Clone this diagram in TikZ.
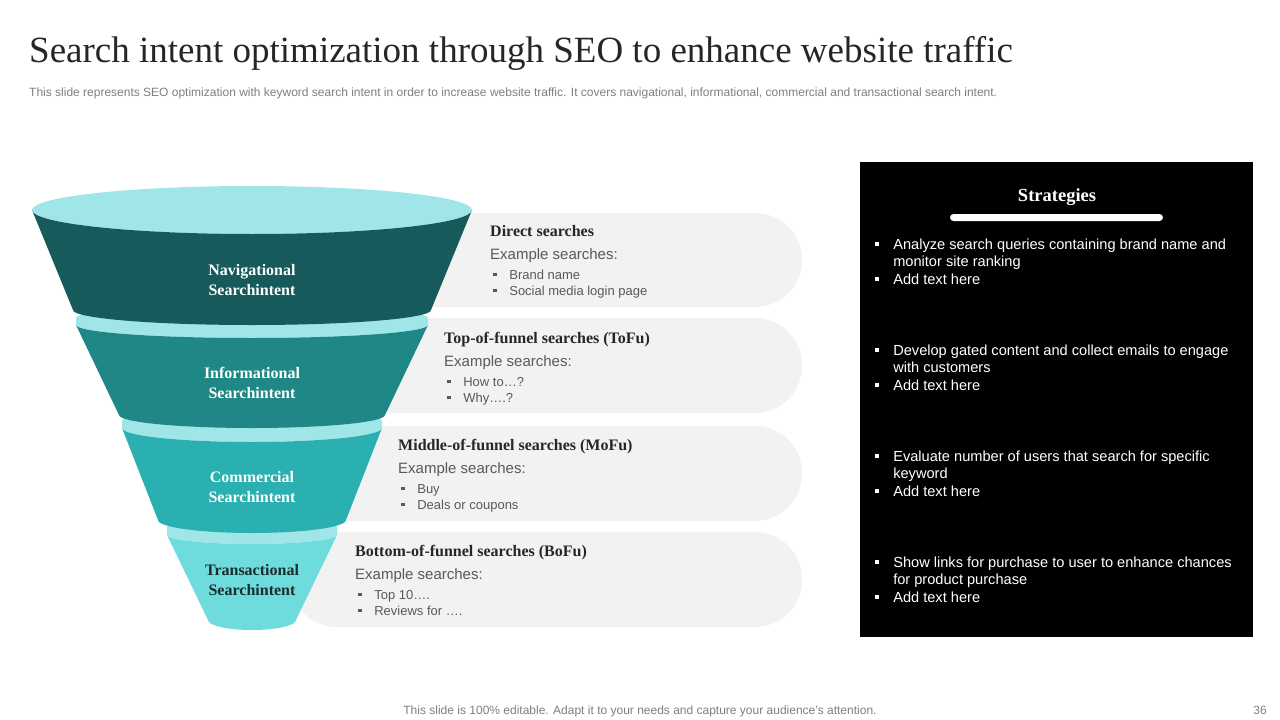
\documentclass[tikz,border=0pt]{standalone}
\usepackage{fontspec}
\setmainfont{Liberation Serif}
\setsansfont{Liberation Sans}
\usetikzlibrary{positioning}
\definecolor{funA}{RGB}{22,90,92}
\definecolor{funB}{RGB}{31,135,133}
\definecolor{funC}{RGB}{42,176,176}
\definecolor{funD}{RGB}{110,220,221}
\definecolor{capcol}{RGB}{160,230,232}
\definecolor{boxgray}{RGB}{242,242,242}
\definecolor{inkdark}{RGB}{38,38,38}
\definecolor{inkgray}{RGB}{89,89,89}
\definecolor{notegray}{RGB}{127,127,127}
\definecolor{lbldark}{RGB}{25,45,45}
\newcommand{\sqb}{\rule[0.2em]{0.28em}{0.28em}}

\begin{document}
\begin{tikzpicture}[x=1pt, y=1pt,
    lbl/.style={font=\bfseries\fontsize{16}{20}\selectfont, align=center, text=white},
    head/.style={anchor=base west, inner sep=0, font=\bfseries\fontsize{16}{18}\selectfont, text=inkdark},
    ex/.style={anchor=base west, inner sep=0, font=\sffamily\fontsize{15}{18}\selectfont, text=inkgray},
    item/.style={anchor=base west, inner sep=0, font=\sffamily\fontsize{13}{15}\selectfont, text=inkgray},
    strat/.style={anchor=base west, inner sep=0, font=\sffamily\fontsize{14.6}{17.5}\selectfont, text=white}]
  \useasboundingbox (0,-720) rectangle (1280,0);
  \fill[white] (0,-720) rectangle (1280,0);

  % title and note
  \node[anchor=base west, inner sep=0, font=\fontsize{37}{42}\selectfont, text=inkdark] (title) at (29,-62)
    {Search intent optimization through SEO to enhance website traffic};
  \node[anchor=base west, inner sep=0, font=\sffamily\fontsize{12}{14}\selectfont, text=notegray] (subtitle) at (29,-96)
    {This slide represents SEO optimization with keyword search intent in order to increase website traffic. It covers navigational, informational, commercial and transactional search intent.};

  % grey bands behind the funnel
  \foreach \t/\b in {213/307, 318/413, 426/521, 532/627}
    \fill[boxgray, rounded corners=47pt] (290,-\t) rectangle (802,-\b);

  % funnel, from the bottom piece up
  \foreach \t/\wa/\ra/\b/\wb/\rb/\s/\body in {535/85/9/620/44/10/8/funD, 428/130/14/520/94/13/7/funC, 325/176/13/415/133/13/7/funB, 210/220/24/310/179/15/0/funA} {
    \fill[capcol] (252-\wa,{-\t+\s}) arc [start angle=180, end angle=0, x radius=\wa, y radius=\ra]
      -- (252+\wa,-\t) arc [start angle=0, end angle=-180, x radius=\wa, y radius=\ra] -- cycle;
    \fill[\body] (252-\wa,-\t) arc [start angle=180, end angle=360, x radius=\wa, y radius=\ra]
      -- (252+\wb,-\b) arc [start angle=0, end angle=-180, x radius=\wb, y radius=\rb] -- cycle;
  }
  \node[lbl] (nav) at (252,-280) {Navigational\\Searchintent};
  \node[lbl] (info) at (252,-383) {Informational\\Searchintent};
  \node[lbl] (comm) at (252,-487) {Commercial\\Searchintent};
  \node[lbl, text=lbldark] (trans) at (252,-580) {Transactional\\Searchintent};

  % search examples
  \foreach \x/\y/\n/\h/\a/\b in {490/236/dir/Direct searches/Brand name/Social media login page, 444/343/tofu/Top-of-funnel searches (ToFu)/How to…?/Why….?, 398/450/mofu/Middle-of-funnel searches (MoFu)/Buy/Deals or coupons, 355/556/bofu/Bottom-of-funnel searches (BoFu)/Top 10…./Reviews for ….} {
    \node[head] (\n-head) at (\x,-\y) {\h};
    \node[ex] (\n-ex) at (\x,{-\y-23}) {Example searches:};
    \node[item] (\n-a) at ({\x+3},{-\y-43}) {\sqb\hspace{12.5pt}\a};
    \node[item] (\n-b) at ({\x+3},{-\y-59}) {\sqb\hspace{12.5pt}\b};
  }

  % strategies panel
  \fill[black] (860,-162) rectangle (1253,-637);
  \node[font=\bfseries\fontsize{18.5}{22}\selectfont, text=white] (strathead) at (1057,-197) {Strategies};
  \fill[white, rounded corners=3.5pt] (950,-214) rectangle (1163,-221);
  \foreach \y/\n/\a/\b in {249/s1/{Analyze search queries containing brand name and}/{monitor site ranking}, 355/s2/{Develop gated content and collect emails to engage}/{with customers}, 461/s3/{Evaluate number of users that search for specific}/{keyword}, 567/s4/{Show links for purchase to user to enhance chances}/{for product purchase}}
    \node[strat] (\n) at (875,-\y) {\begin{tabular}[t]{@{}l@{\hspace{14pt}}l@{}}\sqb & \a\\ & \b\\ \sqb & Add text here\end{tabular}};

  % footer
  \node[anchor=base, inner sep=0, font=\sffamily\fontsize{12}{14}\selectfont, text=notegray] (footer) at (640,-714)
    {This slide is 100\% editable. Adapt it to your needs and capture your audience's attention.};
  \node[anchor=base, inner sep=0, font=\sffamily\fontsize{12}{14}\selectfont, text=notegray] (pagenum) at (1260,-714) {36};
\end{tikzpicture}
\end{document}
